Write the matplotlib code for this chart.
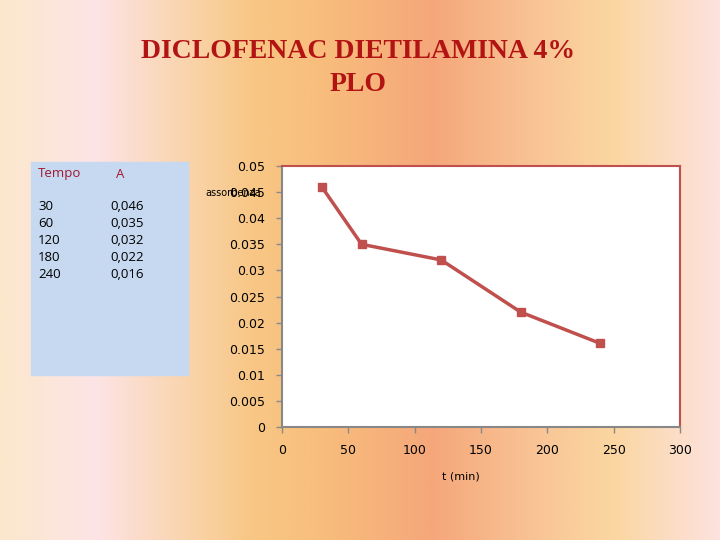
import matplotlib.pyplot as plt
import matplotlib.colors as mcolors
import numpy as np

tempo = [30, 60, 120, 180, 240]
absorb = [0.046, 0.035, 0.032, 0.022, 0.016]
absorb_txt = ['0,046', '0,035', '0,032', '0,022', '0,016']

fig = plt.figure(figsize=(7.2, 5.4), dpi=100)

# background gradient
bg = fig.add_axes([0, 0, 1, 1])
stops = [(0.0, '#fbe8cc'), (0.13, '#fde4e6'), (0.25, '#fad5b0'), (0.35, '#f8c785'),
         (0.45, '#f8bd7c'), (0.6, '#f5a77a'), (0.75, '#f9c596'), (0.85, '#fbd6a0'),
         (1.0, '#fde2de')]
cmap = mcolors.LinearSegmentedColormap.from_list('bg', stops)
bg.imshow(np.linspace(0, 1, 512)[None, :], aspect='auto', cmap=cmap, extent=[0, 1, 0, 1])
bg.set_xlim(0, 1)
bg.set_ylim(0, 1)
bg.axis('off')

fig.text(0.497, 1 - 68 / 540, 'DICLOFENAC DIETILAMINA 4%\nPLO', ha='center', va='center',
         family='Liberation Serif', weight='bold', fontsize=20, color='#b21414',
         linespacing=1.45)

# data table box
bg.add_patch(plt.Rectangle((31 / 720, 1 - 375 / 540), 157 / 720, 213 / 540,
                           color='#c6d9f0', zorder=2))
fig.text(38 / 720, 1 - 174 / 540, 'Tempo', color='#a01830', fontsize=9.5,
         family='Open Sans', va='center')
fig.text(116 / 720, 1 - 174 / 540, 'A', color='#a01830', fontsize=9.5,
         family='Open Sans', va='center')
for i, (t, a) in enumerate(zip(tempo, absorb_txt)):
    y = 1 - (207 + 16.8 * i) / 540
    fig.text(38 / 720, y, str(t), fontsize=9.5, family='Open Sans', va='center')
    fig.text(110 / 720, y, a, fontsize=9.5, family='Open Sans', va='center')

ax = fig.add_axes([282 / 720, 1 - 427 / 540, 398 / 720, 261 / 540])
ax.plot(tempo, absorb, color='#c0504d', marker='s', markersize=6, linewidth=2.5)
ax.set_xlim(0, 300)
ax.set_ylim(0, 0.05)
ax.set_xticks(np.arange(0, 301, 50))
ax.set_yticks(np.arange(0, 0.0501, 0.005))
ax.set_yticklabels(['0', '0.005', '0.01', '0.015', '0.02', '0.025', '0.03', '0.035',
                    '0.04', '0.045', '0.05'])
ax.tick_params(labelsize=9, colors='black', length=4, width=1, color='#888888')
ax.tick_params(axis='x', pad=8)
ax.tick_params(axis='y', pad=8)
for s in ['left', 'bottom']:
    ax.spines[s].set_color('#888888')
    ax.spines[s].set_linewidth(1.5)
for s in ['top', 'right']:
    ax.spines[s].set_color('#c0504d')
    ax.spines[s].set_linewidth(1.5)
ax.set_facecolor('white')
ax.set_xlabel('t (min)', fontsize=8)
ax.xaxis.set_label_coords(0.45, -0.17)
fig.text(205 / 720, 1 - 193 / 540, 'assorbenza', fontsize=7, va='center')

fig.savefig('out.png', dpi=100)
